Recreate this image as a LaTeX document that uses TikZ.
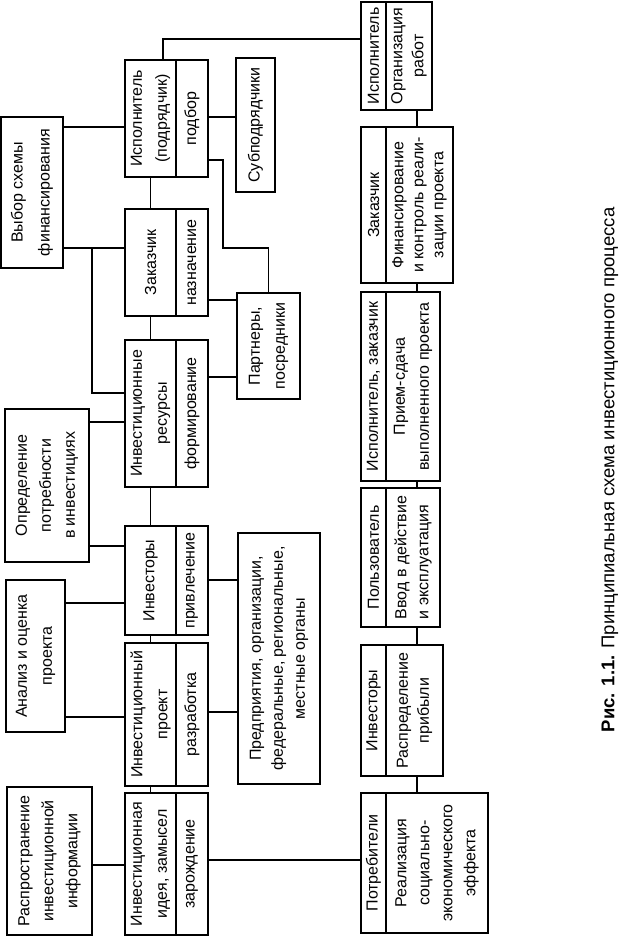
\documentclass[tikz,border=0pt]{standalone}
\usepackage{fontspec}
\setmainfont{Liberation Sans}
\usetikzlibrary{positioning}

\begin{document}
\begin{tikzpicture}[font=\fontsize{16}{25}\selectfont,
   sz/.style 2 args={minimum width=#1pt,minimum height=#2pt},
   blk/.style={draw,line width=1.2pt,inner sep=0pt,outer sep=0pt,align=center,anchor=north west},
   act/.style={draw,line width=1.2pt,inner sep=0pt,outer sep=0pt,align=center},
   link/.style={line width=1.1pt}]
 \begin{scope}[rotate=90,transform shape,x=1pt,y=-1pt]
  \useasboundingbox (0,0) rectangle (938,623);
  % upper row
  \node[blk,sz={148}{85},font=\fontsize{16}{24}\selectfont] (rasp) at (3,7) {Распространение\\инвестиционной\\информации};
  \node[blk,sz={152}{59}] (analiz) at (206,6) {Анализ и оценка\\проекта};
  \node[blk,sz={153}{84},font=\fontsize{16}{24}\selectfont] (opred) at (376,5) {Определение\\потребности\\в инвестициях};
  \node[blk,sz={151}{62},font=\fontsize{16}{27}\selectfont] (vybor) at (670,1) {Выбор схемы\\финансирования};
  % stages of the project
  \node[blk,sz={142}{51}] (idea) at (3,125) {Инвестиционная\\идея, замысел};
  \node[act,sz={142}{32},below=0pt of idea] (ideaT) {зарождение};
  \node[blk,sz={143}{51}] (proj) at (152,125) {Инвестиционный\\проект};
  \node[act,sz={143}{32},below=0pt of proj] (projT) {разработка};
  \node[blk,sz={109}{51}] (inv) at (303,125) {Инвесторы};
  \node[act,sz={109}{32},below=0pt of inv] (invT) {привлечение};
  \node[blk,sz={147}{51}] (res) at (451,125) {Инвестиционные\\ресурсы};
  \node[act,sz={147}{32},below=0pt of res] (resT) {формирование};
  \node[blk,sz={107}{51}] (zak) at (622,125) {Заказчик};
  \node[act,sz={107}{32},below=0pt of zak] (zakT) {назначение};
  \node[blk,sz={117}{51}] (isp) at (761,125) {Исполнитель\\(подрядчик)};
  \node[act,sz={117}{32},below=0pt of isp] (ispT) {подбор};
  % participants
  \node[blk,sz={251}{82},font=\fontsize{16}{22}\selectfont] (pred) at (154,238)
     {Предприятия, организации,\\федеральные, региональные,\\местные органы};
  \node[blk,sz={106}{63}] (partn) at (539,237) {Партнеры,\\посредники};
  \node[blk,sz={134}{39}] (subp) at (746,236) {Субподрядчики};
  % realisation
  \node[blk,sz={140}{25}] (potr) at (5,361) {Потребители};
  \node[act,sz={140}{102},below=0pt of potr,font=\fontsize{16}{23}\selectfont] (potrT)
     {Реализация\\социально-\\экономического\\эффекта};
  \node[blk,sz={131}{25}] (invP) at (162,361) {Инвесторы};
  \node[act,sz={131}{57},below=0pt of invP,font=\fontsize{16}{21}\selectfont] (invPT) {Распределение\\прибыли};
  \node[blk,sz={139}{25}] (polz) at (311,361) {Пользователь};
  \node[act,sz={139}{54},below=0pt of polz,align=left,font=\fontsize{16}{22}\selectfont] (polzT) {Ввод в действие\\и эксплуатация};
  \node[blk,sz={189}{25}] (ispz) at (457,361) {Исполнитель, заказчик};
  \node[act,sz={189}{54},below=0pt of ispz,font=\fontsize{16}{24}\selectfont] (ispzT) {Прием-сдача\\выполненного проекта};
  \node[blk,sz={156}{25}] (zakF) at (655,361) {Заказчик};
  \node[act,sz={156}{67},below=0pt of zakF,font=\fontsize{16}{20}\selectfont] (zakFT)
     {Финансирование\\и контроль реали-\\зации проекта};
  \node[blk,sz={108}{25}] (ispO) at (828,361) {Исполнитель};
  \node[act,sz={108}{46},below=0pt of ispO,font=\fontsize{16}{21}\selectfont] (ispOT) {Организация\\работ};
  \node[font=\fontsize{18.5}{22}\selectfont] (cap) at (468,610)
     {\textbf{Рис. 1.1.} Принципиальная схема инвестиционного процесса};
  % links
  \coordinate (jz) at (690,92);
  \coordinate (kp) at (690,223);
  \draw[link] (rasp.south -| 73,0) -- (idea.north -| 73,0);
  \draw[link] (analiz.south -| 221,0) -- (proj.north -| 221,0);
  \draw[link] (analiz.south -| 335,0) -- (inv.north -| 335,0);
  \draw[link] (opred.south -| 392,0) -- (inv.north -| 392,0);
  \draw[link] (opred.south -| 516,0) -- (res.north -| 516,0);
  \draw[link] (vybor.south -| 690,0) -- (zak.north -| 690,0);
  \draw[link] (vybor.south -| 811,0) -- (isp.north -| 811,0);
  \draw[link] (res.north -| 545,0) |- (jz);
  \draw[link] (idea) -- (proj) (proj) -- (inv) (inv) -- (res) (res) -- (zak) (zak) -- (isp);
  \draw[link] (projT.south -| 226,0) -- (pred.north -| 226,0);
  \draw[link] (invT.south -| 358,0) -- (pred.north -| 358,0);
  \draw[link] (resT.south -| 561,0) -- (partn.north -| 561,0);
  \draw[link] (zakT.south -| 638,0) -- (partn.north -| 638,0);
  \draw[link] (ispT.south -| 821,0) -- (subp.north -| 821,0);
  \draw[link] (ispT.south -| 778,0) |- (kp) |- (partn.east);
  \draw[link] (isp.east |- 0,163) -| (ispO.north -| 899,0);
  \draw[link] (ideaT.south -| 78,0) -- (potr.north -| 78,0);
  \foreach \a/\b in {potrT/invPT,invPT/polzT,polzT/ispzT,ispzT/zakFT,zakFT/ispOT}
    \draw[link] (\a.east |- 0,417) -- (\b.west |- 0,417);
 \end{scope}
\end{tikzpicture}
\end{document}
